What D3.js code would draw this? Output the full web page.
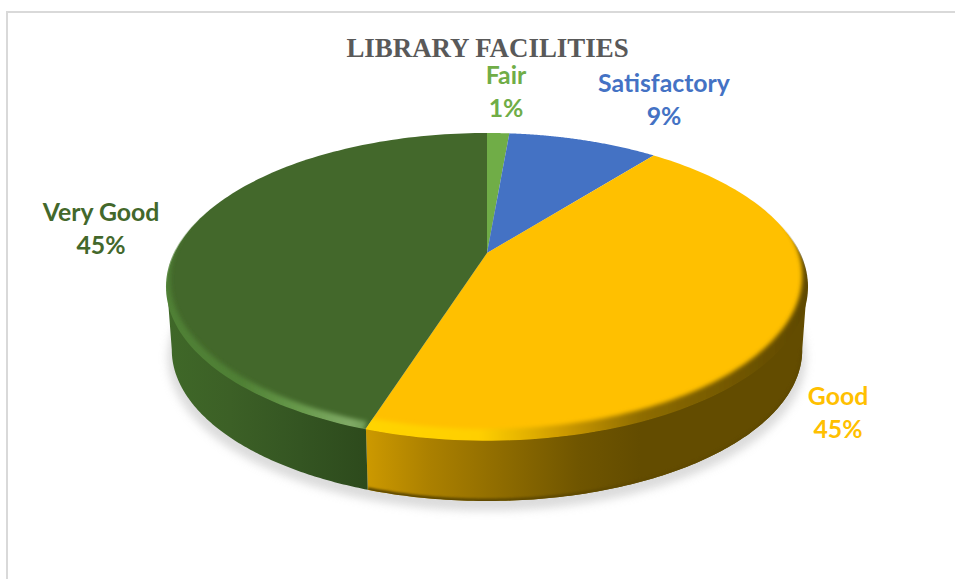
<!DOCTYPE html>
<html><head><meta charset="utf-8">
<script src="https://cdn.jsdelivr.net/npm/d3@7/dist/d3.min.js"></script>
<style>html,body{margin:0;padding:0;background:#fff}svg{display:block}</style>
</head><body><svg id="c" width="955" height="579"></svg>
<script>
const titleText = "LIBRARY FACILITIES";
const categories = ["Fair", "Satisfactory", "Good", "Very Good"];
const shares = [1.4, 9.4, 44.5, 45.3];
const colours = ["#70ad47", "#4472c4", "#ffc000", "#43682b"];

const W = 955, H = 579;
const apex = {x: 487, y: 253};
const radiusX = 312.3, radiusY = 146.2, persp = 0.2182;
const sideDrop = 63.8, sideScale = 0.985;
const labelAnchors = {
  "Fair": [506, 84], "Satisfactory": [664, 92], "Good": [838, 405], "Very Good": [101, 221]
};
const labelFont = 24.8, labelGap = 33;

const svg = d3.select("#c");
const defs = svg.append("defs");
const colour = d3.scaleOrdinal().domain(categories).range(colours);
const pct = d3.format(".0f");

// disc coordinates -> screen through a perspective tilt
function upper(theta, r = 1) {
  const u = Math.sin(theta) * r, v = Math.cos(theta) * r, w = 1 + persp * v;
  return [apex.x + radiusX * u / w, apex.y - radiusY * v / w];
}
function lower(theta, r = 1) {
  const [x, y] = upper(theta, r);
  return [apex.x + (x - apex.x) * sideScale, apex.y + (y - apex.y) * sideScale + sideDrop];
}
const sweep = (a, b, f, r) => d3.range(0, 121).map(i => f(a + (b - a) * i / 120, r));
const line = d3.line();

const arcs = d3.pie().value(d => d).sort(null)(shares)
  .map((d, i) => ({...d, name: categories[i]}));

function hGrad(id, stops) {
  const g = defs.append("linearGradient").attr("id", id).attr("gradientUnits", "userSpaceOnUse")
    .attr("x1", 167).attr("x2", 807).attr("y1", 0).attr("y2", 0);
  stops.forEach(s => g.append("stop").attr("offset", (s[0] - 167) / 640).attr("stop-color", s[1]));
}
hGrad("sideGood", [[367, "#cc9900"], [430, "#ab8000"], [500, "#8f6c00"], [580, "#6f5500"], [640, "#634c00"], [807, "#634c00"]]);
hGrad("sideVery", [[167, "#3f6828"], [230, "#3c6026"], [300, "#345522"], [367, "#2d4a1c"]]);
hGrad("rimGood", [[367, "#ffd400"], [480, "#ffcf00"], [560, "#cf9c00"], [640, "#8f6d00"], [760, "#6a5100"], [807, "#5f4900"]]);
hGrad("rimVery", [[167, "#4f8034"], [240, "#4f8034"], [300, "#689a4c"], [350, "#80aa66"], [367, "#6f9d55"]]);

const blur = (id, sd) => defs.append("filter").attr("id", id)
  .attr("x", "-10%").attr("y", "-10%").attr("width", "120%").attr("height", "120%")
  .append("feGaussianBlur").attr("stdDeviation", sd);
blur("soft", 4.5);
blur("rimBlur", 2);
blur("edgeBlur", 1.2);

// frame
svg.append("path").attr("d", line([[7, H], [7, 12], [W, 12]]))
  .attr("fill", "none").attr("stroke", "#d9d9d9").attr("stroke-width", 2);

// shadow
svg.append("path")
  .attr("d", line(sweep(0, 2 * Math.PI, lower, 1.012)) + "Z")
  .attr("transform", "translate(0,7)")
  .attr("fill", "#c4c4c4").attr("opacity", 0.6).attr("filter", "url(#soft)");

// side wall
const frontStart = Math.PI / 2 + Math.asin(persp), frontEnd = 2 * Math.PI - frontStart;
const sideId = {"Good": "sideGood", "Very Good": "sideVery"};
const rimId = {"Good": "rimGood", "Very Good": "rimVery"};
arcs.filter(d => sideId[d.name]).forEach(d => {
  const a = Math.max(d.startAngle, frontStart), b = Math.min(d.endAngle, frontEnd);
  const pts = sweep(a, b, upper).concat(sweep(a, b, lower).reverse());
  const shape = line(pts) + "Z";
  svg.append("path").attr("d", shape).attr("fill", `url(#${sideId[d.name]})`);
  if (d.name === "Good") {
    defs.append("clipPath").attr("id", "wall").append("path").attr("d", shape);
    svg.append("g").attr("clip-path", "url(#wall)")
      .append("path").attr("d", line(sweep(a, b, lower)))
      .attr("fill", "none").attr("stroke", "#5f4900").attr("stroke-width", 5)
      .attr("filter", "url(#edgeBlur)");
  }
});

// top face
const faceShape = d => line([[apex.x, apex.y], ...sweep(d.startAngle, d.endAngle, upper)]) + "Z";
svg.append("g").selectAll("path").data(arcs).join("path")
  .attr("d", faceShape).attr("fill", d => colour(d.name));

// bevel: crescent between the face edge and the same edge lifted, so it tapers at both sides
const rimG = svg.append("g");
const lift = {"Good": [0.985, 11], "Very Good": [0.99, 7]};
arcs.filter(d => rimId[d.name]).forEach(d => {
  const a = Math.max(d.startAngle, 1.2), b = Math.min(d.endAngle, 2 * Math.PI - 1.2);
  const [sx, dy] = lift[d.name];
  const inner = sweep(a, b, upper).map(([x, y]) => [apex.x + (x - apex.x) * sx, y - dy]);
  defs.append("clipPath").attr("id", "clip" + d.index).append("path")
    .attr("d", line([[apex.x, apex.y], ...sweep(d.startAngle, d.endAngle, upper, 1.003)]) + "Z");
  rimG.append("g").attr("clip-path", `url(#clip${d.index})`)
    .append("path").attr("d", line(sweep(a, b, upper, 1.02).concat(inner.reverse())) + "Z")
    .attr("fill", `url(#${rimId[d.name]})`).attr("filter", "url(#rimBlur)");
});

// title
svg.append("text").text(titleText).attr("x", 487.5).attr("y", 57)
  .attr("text-anchor", "middle").attr("fill", "#595959")
  .style("font", "bold 26.9px 'Liberation Serif'");

// labels
const labels = svg.append("g").selectAll("text").data(arcs).join("text")
  .attr("text-anchor", "middle").attr("fill", d => colour(d.name))
  .style("font", `bold ${labelFont}px Lato`);
labels.append("tspan").text(d => d.name)
  .attr("x", d => labelAnchors[d.name][0]).attr("y", d => labelAnchors[d.name][1]);
labels.append("tspan").text(d => pct(d.value) + "%")
  .attr("x", d => labelAnchors[d.name][0]).attr("y", d => labelAnchors[d.name][1] + labelGap);
</script></body></html>
